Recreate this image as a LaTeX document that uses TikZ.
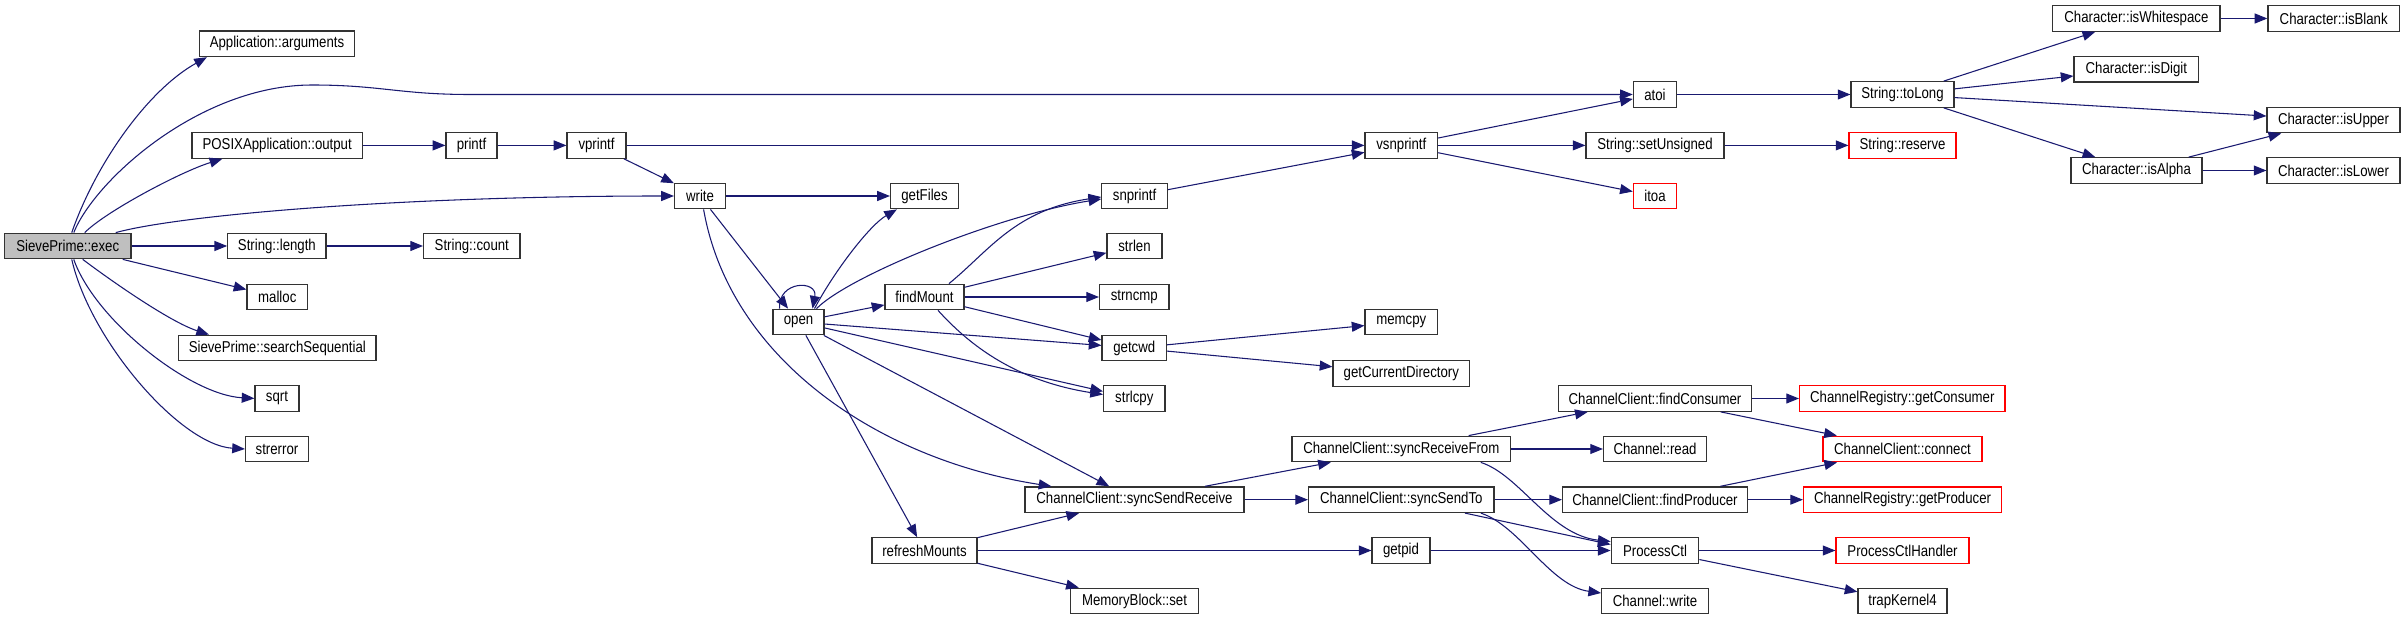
\documentclass[tikz,border=0pt]{standalone}
\usepackage{fontspec}
\setmainfont[FakeStretch=0.84]{Liberation Sans}
\usetikzlibrary{arrows.meta,calc}
\definecolor{edgecol}{RGB}{25,25,112}
\definecolor{rootfill}{RGB}{191,191,191}
\tikzset{
  box/.style={draw=black!80, line width=0.9pt, fill=white, inner sep=0pt,
    minimum height=19.2pt, font=\fontsize{11.8pt}{13pt}\selectfont},
  bw/.style={minimum width=#1*0.75pt},
  redbox/.style={box, draw=red},
  rootbox/.style={box, fill=rootfill},
  e/.style={draw=edgecol, line width=0.8pt, -{Triangle[length=9.5pt,width=7.5pt]}},
}
\begin{document}
\begin{tikzpicture}[x=0.75pt,y=-0.75pt]
\useasboundingbox (0,0) rectangle (2405,620);
% column 0
\node[rootbox,bw=126.5] (exec) at (67.75,246) {SievePrime::exec};
% column 1
\node[box,bw=155] (args) at (277,43.8) {Application::arguments};
\node[box,bw=170.5] (posix) at (277.2,145.4) {POSIXApplication::output};
\node[box,bw=98.3] (length) at (276.9,246) {String::length};
\node[box,bw=60.6] (malloc) at (277.3,297) {malloc};
\node[box,bw=197.4] (search) at (277.3,348) {SievePrime::searchSequential};
\node[box,bw=44] (sqrt) at (277,398.4) {sqrt};
\node[box,bw=63] (strerror) at (277,449) {strerror};
% column 2
\node[box,bw=51] (printf) at (471.5,145.4) {printf};
\node[box,bw=96.4] (count) at (471.8,246) {String::count};
\node[box,bw=59] (vprintf) at (596.5,145.4) {vprintf};
\node[box,bw=51] (write) at (700,196) {write};
\node[box,bw=51] (open) at (798.5,322) {open};
% column 3
\node[box,bw=68] (getfiles) at (924.5,196) {getFiles};
\node[box,bw=79] (findmount) at (924.5,297) {findMount};
\node[box,bw=105] (refresh) at (924.5,550.5) {refreshMounts};
% column 4
\node[box,bw=65.6] (snprintf) at (1134.6,196) {snprintf};
\node[box,bw=55] (strlen) at (1134.5,246) {strlen};
\node[box,bw=69.5] (strncmp) at (1134.3,297) {strncmp};
\node[box,bw=64.5] (getcwd) at (1134.3,348) {getcwd};
\node[box,bw=61.4] (strlcpy) at (1134.3,398.5) {strlcpy};
\node[box,bw=219] (ssr) at (1134.5,499.7) {ChannelClient::syncSendReceive};
\node[box,bw=128] (mbset) at (1134.5,601) {MemoryBlock::set};
% column 5
\node[box,bw=72.5] (vsnprintf) at (1401.3,145.4) {vsnprintf};
\node[box,bw=72.5] (memcpy) at (1401.3,322) {memcpy};
\node[box,bw=136.6] (gcd) at (1401.3,373.3) {getCurrentDirectory};
\node[box,bw=218.7] (srf) at (1401.3,449) {ChannelClient::syncReceiveFrom};
\node[box,bw=185.5] (sst) at (1401.3,499.7) {ChannelClient::syncSendTo};
\node[box,bw=58] (getpid) at (1401,550.5) {getpid};
% column 6
\node[box,bw=43.3] (atoi) at (1655,94.5) {atoi};
\node[box,bw=138] (setuns) at (1655,145.4) {String::setUnsigned};
\node[redbox,bw=43.3] (itoa) at (1655,196) {itoa};
\node[box,bw=193.5] (fcons) at (1655,398.5) {ChannelClient::findConsumer};
\node[box,bw=103] (chread) at (1655,449) {Channel::read};
\node[box,bw=185] (fprod) at (1655,499.7) {ChannelClient::findProducer};
\node[box,bw=87.6] (pctl) at (1655,550.5) {ProcessCtl};
\node[box,bw=106.7] (chwrite) at (1655,601) {Channel::write};
% column 7
\node[box,bw=103] (tolong) at (1902.5,94.5) {String::toLong};
\node[redbox,bw=107] (reserve) at (1902.5,145.4) {String::reserve};
\node[redbox,bw=205.5] (getcons) at (1902.3,398.5) {ChannelRegistry::getConsumer};
\node[redbox,bw=159] (connect) at (1902.5,449) {ChannelClient::connect};
\node[redbox,bw=198] (getprod) at (1902.5,499.7) {ChannelRegistry::getProducer};
\node[redbox,bw=133] (pch) at (1902.5,550.5) {ProcessCtlHandler};
\node[box,bw=89] (trap) at (1902.5,601) {trapKernel4};
% column 8
\node[box,bw=167.3] (isws) at (2136.4,18.5) {Character::isWhitespace};
\node[box,bw=124.5] (isdigit) at (2136.3,69.2) {Character::isDigit};
\node[box,bw=131] (isalpha) at (2136.5,170.5) {Character::isAlpha};
% column 9
\node[box,bw=131.5] (isblank) at (2333.7,18.5) {Character::isBlank};
\node[box,bw=133] (isupper) at (2333.5,120) {Character::isUpper};
\node[box,bw=133] (islower) at (2333.5,170.5) {Character::isLower};

% edges from exec
\draw[e] ($(exec.north)+(4,0)$) .. controls (96,163) and (148,90) .. ($(args.south west)+(8,0)$);
\draw[e] ($(exec.north)+(6,0)$) .. controls (95,180) and (200,85) .. (312,85) .. controls (380,85) and (400,94.5) .. (470,94.5) -- (atoi.west);
\draw[e] ($(exec.north)+(17,0)$) .. controls (105,212) and (180,172) .. ($(posix.south west)+(31,0)$);
\draw[e] ($(exec.north)+(48,0)$) .. controls (180,215) and (400,196) .. (write.west);
\draw[e] (exec) -- (length);
\draw[e] (exec) -- (malloc);
\draw[e] ($(exec.south)+(15,0)$) .. controls (110,280) and (170,322) .. ($(search.north west)+(31,0)$);
\draw[e] ($(exec.south)+(6,0)$) .. controls (95,320) and (190,395) .. (sqrt.west);
\draw[e] ($(exec.south)+(4,0)$) .. controls (90,340) and (180,445) .. (strerror.west);
% printf chain
\draw[e] (posix) -- (printf);
\draw[e] (printf) -- (vprintf);
\draw[e] (vprintf) -- (vsnprintf);
\draw[e] (vprintf) -- (write);
\draw[e] (length) -- (count);
% write
\draw[e] (write) -- (getfiles);
\draw[e] (write) -- (open);
\draw[e] ($(write.south)+(3.6,0)$) .. controls (730,360) and (880,460) .. ($(ssr.north west)+(27,0)$);
% open
\draw[e] ($(open.north)+(-19,0)$) .. controls (778,280) and (818,280) .. ($(open.north)+(14,0)$);
\draw[e] ($(open.north)+(16,0)$) .. controls (835,270) and (870,225) .. ($(getfiles.south west)+(7,0)$);
\draw[e] ($(open.north)+(18,0)$) .. controls (850,275) and (1000,215) .. ($(snprintf.west)+(0,3)$);
\draw[e] (open) -- (findmount);
\draw[e] (open) -- (getcwd);
\draw[e] (open) -- (strlcpy);
\draw[e] (open) -- (ssr);
\draw[e] (open) -- (refresh);
% findMount
\draw[e] ($(findmount.north)+(24.5,0)$) .. controls (990,250) and (1015,210) .. ($(snprintf.west)+(0,1)$);
\draw[e] (findmount) -- (strlen);
\draw[e] (findmount) -- (strncmp);
\draw[e] (findmount) -- (getcwd);
\draw[e] ($(findmount.south)+(13.5,0)$) .. controls (965,340) and (1010,380) .. ($(strlcpy.west)+(0,-4)$);
% snprintf, getcwd
\draw[e] (snprintf) -- (vsnprintf);
\draw[e] (getcwd) -- (memcpy);
\draw[e] (getcwd) -- (gcd);
% vsnprintf
\draw[e] (vsnprintf) -- (atoi);
\draw[e] (vsnprintf) -- (setuns);
\draw[e] (vsnprintf) -- (itoa);
\draw[e] (atoi) -- (tolong);
\draw[e] (setuns) -- (reserve);
% toLong
\draw[e] (tolong) -- (isws);
\draw[e] (tolong) -- (isdigit);
\draw[e] (tolong) -- (isupper);
\draw[e] (tolong) -- (isalpha);
\draw[e] (isws) -- (isblank);
\draw[e] (isalpha) -- (isupper);
\draw[e] (isalpha) -- (islower);
% channel client
\draw[e] (ssr) -- (srf);
\draw[e] (ssr) -- (sst);
\draw[e] (refresh) -- (ssr);
\draw[e] (refresh) -- (getpid);
\draw[e] (refresh) -- (mbset);
\draw[e] (srf) -- (fcons);
\draw[e] (srf) -- (chread);
\draw[e] ($(srf.south)+(79.5,0)$) .. controls (1520,475) and (1550,535) .. ($(pctl.west)+(0,-9)$);
\draw[e] (sst) -- (fprod);
\draw[e] ($(sst.south)+(63.7,0)$) -- ($(pctl.west)+(0,-6)$);
\draw[e] ($(sst.south)+(79.5,0)$) .. controls (1520,526) and (1550,586) .. ($(chwrite.west)+(0,-8)$);
\draw[e] (getpid) -- (pctl);
\draw[e] (fcons) -- (getcons);
\draw[e] (fcons) -- (connect);
\draw[e] (fprod) -- (connect);
\draw[e] (fprod) -- (getprod);
\draw[e] (pctl) -- (pch);
\draw[e] (pctl) -- (trap);
\end{tikzpicture}
\end{document}
